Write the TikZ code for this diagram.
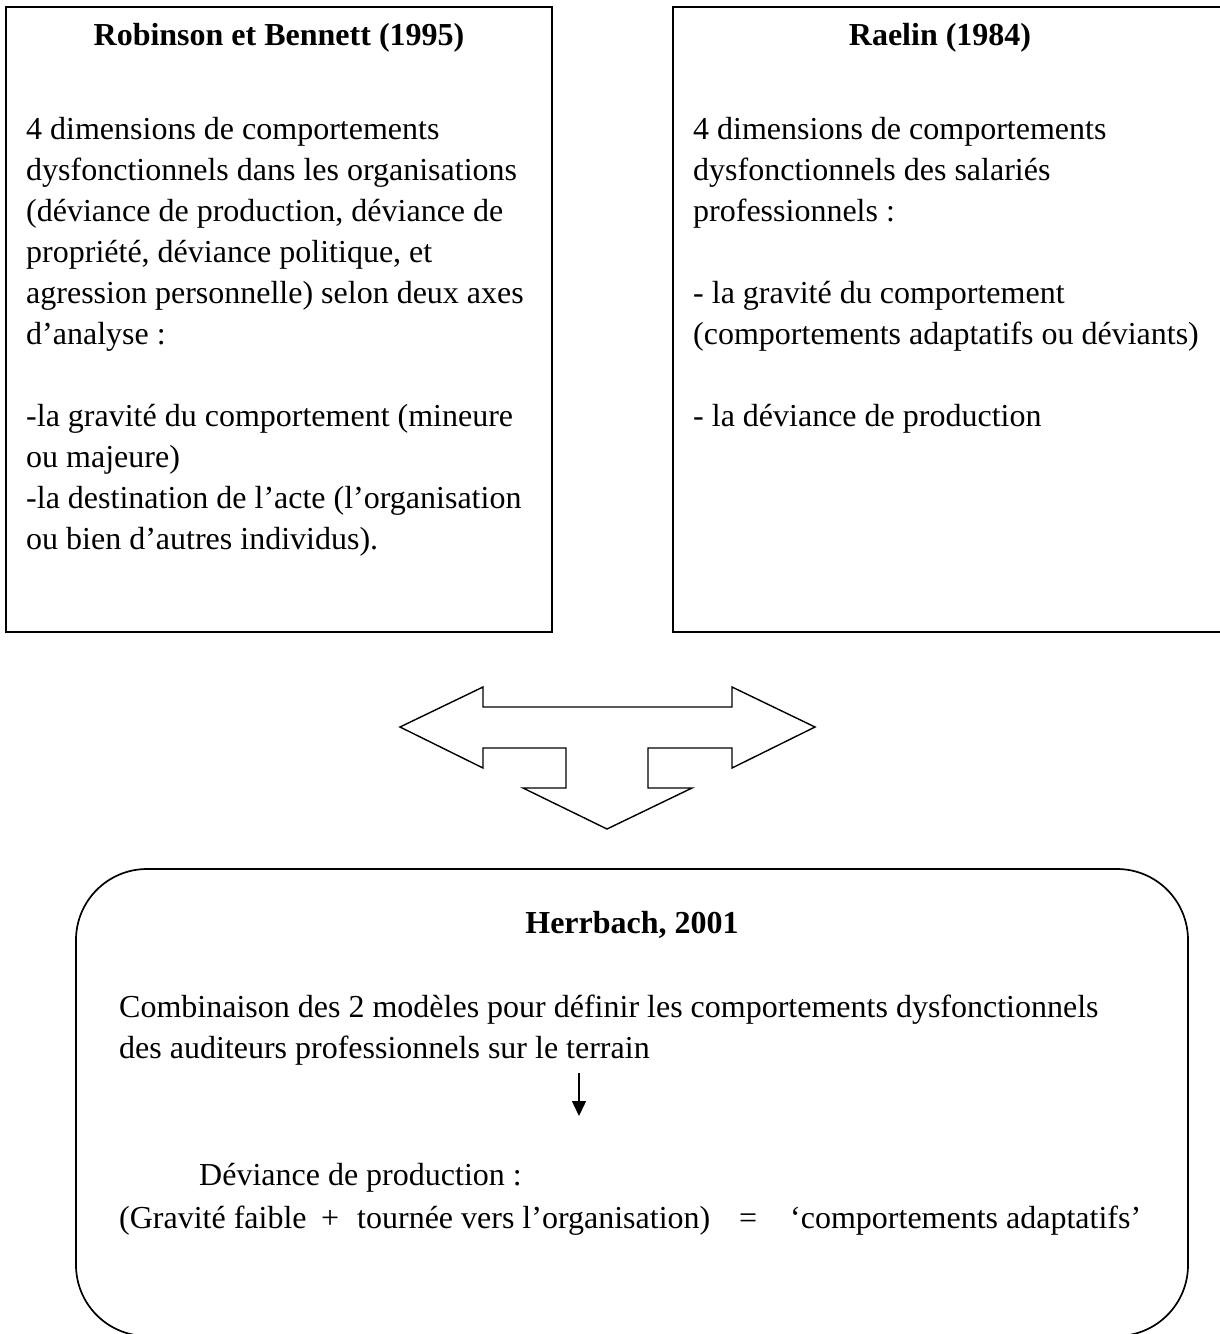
\documentclass[tikz,border=0pt]{standalone}
\usepackage{fontspec}
\setmainfont{Liberation Serif}
\usetikzlibrary{arrows.meta}
\begin{document}
\begin{tikzpicture}[x=1pt,y=-1pt,
  txt/.style={anchor=base west, inner sep=0pt, font=\fontsize{32}{39.2}\selectfont},
  ttl/.style={anchor=base, inner sep=0pt, font=\fontsize{32}{39.2}\selectfont\bfseries},
  frame/.style={draw=black, line width=1.7pt, inner sep=0pt},
  outline/.style={draw=black, line width=1.4pt, line join=miter},
  smallarrow/.style={draw=black, line width=1.4pt, -{Triangle[length=15pt,width=14pt]}}]
\useasboundingbox (0,0) rectangle (1219,1334);
% boxes
\node[frame, minimum width=546pt, minimum height=625pt] (boxL) at (279,319.5) {};
\node[frame, minimum width=557pt, minimum height=625pt] (boxR) at (951.5,319.5) {};
\node[frame, rounded corners=71pt, minimum width=1112pt, minimum height=467pt] (boxB) at (632,1102.5) {};
% titles
\node[ttl] (tL) at (279,45) {Robinson et Bennett (1995)};
\node[ttl] (tR) at (940,45) {Raelin (1984)};
% left text
\foreach \k/\t in {0/{4 dimensions de comportements},
  1/{dysfonctionnels dans les organisations},
  2/{(déviance de production, déviance de},
  3/{propriété, déviance politique, et},
  4/{agression personnelle) selon deux axes},
  5/{d’analyse :},
  7/{-la gravité du comportement (mineure},
  8/{ou majeure)},
  9/{-la destination de l’acte (l’organisation},
  10/{ou bien d’autres individus).}}
  \node[txt] (L\k) at (26,139+41*\k) {\t};
% right text
\foreach \k/\t in {0/{4 dimensions de comportements},
  1/{dysfonctionnels des salariés},
  2/{professionnels :},
  4/{- la gravité du comportement},
  5/{(comportements adaptatifs ou déviants)},
  7/{- la déviance de production}}
  \node[txt] (R\k) at (693,139+41*\k) {\t};
% three-way block arrow
\draw[outline] (400,727) -- (483,687) -- (483,707) -- (732,707) -- (732,687)
  -- (815,727) -- (732,768) -- (732,748) -- (648,748) -- (648,788)
  -- (692,788) -- (607,829) -- (523,788) -- (566,788) -- (566,748)
  -- (483,748) -- (483,768) -- cycle;
% bottom box text
\node[ttl] (tB) at (632,933) {Herrbach, 2001};
\node[txt] (B1) at (119,1017) {Combinaison des 2 modèles pour définir les comportements dysfonctionnels};
\node[txt] (B2) at (119,1058) {des auditeurs professionnels sur le terrain};
\coordinate (a1) at (579,1073);
\coordinate (a2) at (579,1116);
\draw[smallarrow] (a1) -- (a2);
\node[txt] (B3) at (199,1185) {Déviance de production :};
\node[txt] (B4a) at (119,1228) {(Gravité faible};
\node[txt] (B4b) at (321,1228) {+};
\node[txt] (B4c) at (357,1228) {tournée vers l’organisation)};
\node[txt] (B4d) at (739,1228) {=};
\node[txt] (B4e) at (790,1228) {‘comportements adaptatifs’};
\end{tikzpicture}
\end{document}
